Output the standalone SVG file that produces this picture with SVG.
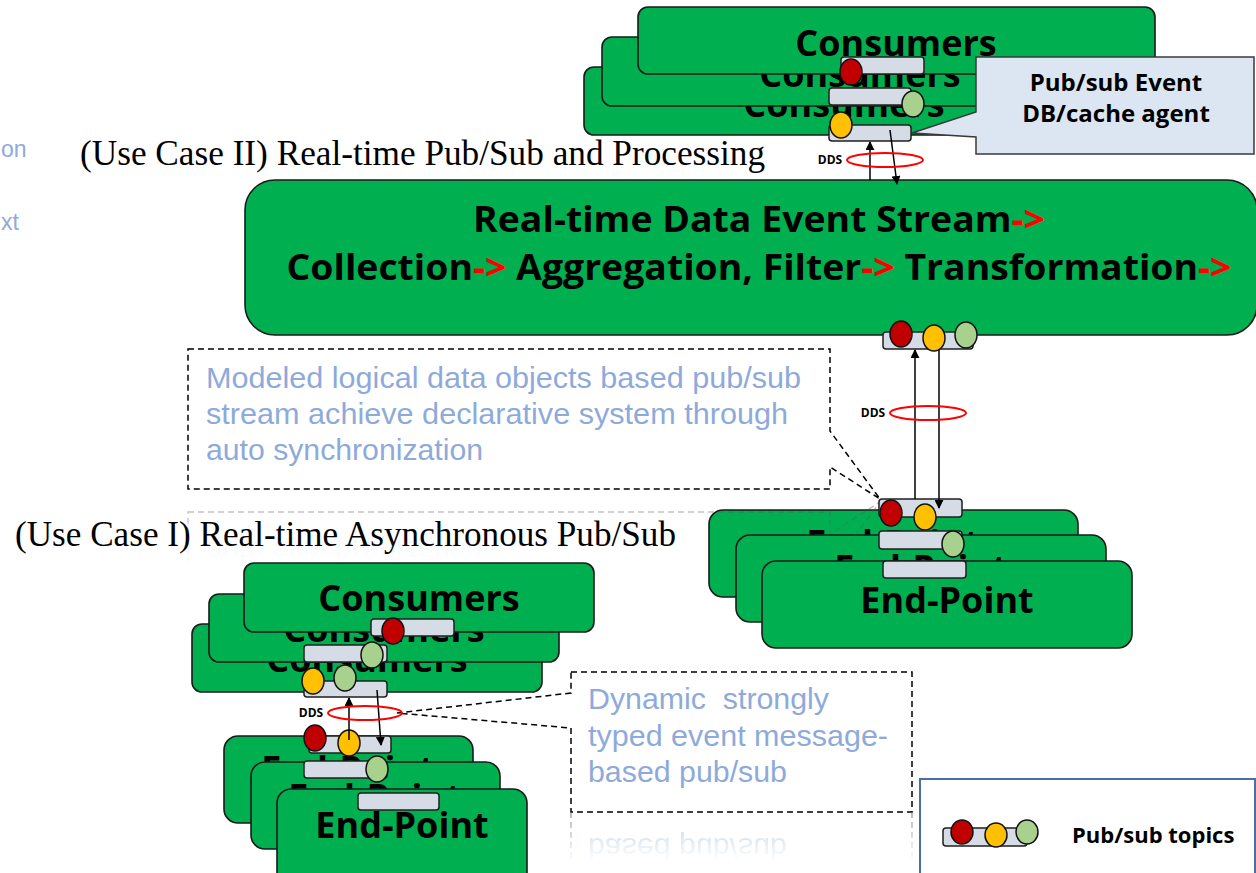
<svg xmlns="http://www.w3.org/2000/svg" width="1256" height="873" viewBox="0 0 1256 873">
  <style>
    .box { fill: #00b050; stroke: #1a1a1a; stroke-width: 1.6; }
    .lbl { font-family: "Open Sans", "Liberation Sans", sans-serif; font-weight: 700; font-size: 36px; fill: #000; text-anchor: middle; }
    .small { font-family: "Open Sans", "Liberation Sans", sans-serif; font-weight: 700; font-size: 22px; fill: #000; }
    .callout { font-size: 24px; }
    .bar { fill: #d6dce5; stroke: #1f1f1f; stroke-width: 1.5; }
    .cr { fill: #c00000; stroke: #111; stroke-width: 1.5; }
    .cy { fill: #ffc000; stroke: #111; stroke-width: 1.5; }
    .cg { fill: #a9d18e; stroke: #111; stroke-width: 1.5; }
    .ring { fill: none; stroke: #ff0000; stroke-width: 2; }
    .dds { font-family: "Open Sans", "Liberation Sans", sans-serif; font-weight: 700; font-size: 12px; fill: #000; text-anchor: middle; }
    .note { font-family: "Liberation Sans", Arial, sans-serif; font-size: 29px; fill: #8eaadb; }
    .edge { font-family: "Liberation Sans", Arial, sans-serif; font-size: 23px; fill: #8eaadb; }
    .dash { fill: none; stroke: #000; stroke-width: 1.5; stroke-dasharray: 6 4; }
    .title { font-family: "Liberation Serif", "Times New Roman", serif; font-size: 35px; fill: #000; }
    .main { font-family: "Open Sans", "Liberation Sans", sans-serif; font-weight: 700; font-size: 35px; fill: #000; text-anchor: middle; }
    .arr { fill: none; stroke: #000; stroke-width: 1.5; marker-end: url(#ah); }
    .red { fill: #ff0000; }
  </style>
  <defs>
    <marker id="ah" viewBox="0 0 10 10" refX="9" refY="5" markerWidth="9" markerHeight="9" markerUnits="userSpaceOnUse" orient="auto">
      <path d="M0,0 L10,5 L0,10 Z" fill="#000"/>
    </marker>
    <linearGradient id="fadeA" x1="0" y1="505" x2="0" y2="565" gradientUnits="userSpaceOnUse">
      <stop offset="0" stop-color="#fff" stop-opacity="0.4"/>
      <stop offset="1" stop-color="#fff" stop-opacity="0"/>
    </linearGradient>
    <linearGradient id="fadeB" x1="0" y1="812" x2="0" y2="862" gradientUnits="userSpaceOnUse">
      <stop offset="0" stop-color="#fff" stop-opacity="0.6"/>
      <stop offset="1" stop-color="#fff" stop-opacity="0"/>
    </linearGradient>
    <mask id="mA"><rect x="0" y="500" width="1256" height="80" fill="url(#fadeA)"/></mask>
    <mask id="mB"><rect x="0" y="810" width="1256" height="63" fill="url(#fadeB)"/></mask>
  </defs>

  <rect width="1256" height="873" fill="#fff"/>

  <!-- side text fragments at the left edge -->
  <g id="edge-text">
    <text class="edge" x="1" y="157">on</text>
    <text class="edge" x="1" y="230">xt</text>
  </g>

  <!-- section titles -->
  <text id="title-uc2" class="title" x="80" y="165" textLength="685" lengthAdjust="spacingAndGlyphs">(Use Case II) Real-time Pub/Sub and Processing</text>
  <text id="title-uc1" class="title" x="15" y="546" textLength="661" lengthAdjust="spacingAndGlyphs">(Use Case I) Real-time Asynchronous Pub/Sub</text>

  <!-- Use Case II: stacked consumers -->
  <g id="uc2-consumers">
    <rect class="box" x="584" y="67" width="520" height="68" rx="10"/>
    <text class="lbl" x="844" y="117">Consumers</text>
    <rect class="box" x="602" y="37" width="517" height="69" rx="10"/>
    <text class="lbl" x="860" y="87">Consumers</text>
    <rect class="box" x="638" y="7" width="517" height="67" rx="10"/>
    <text class="lbl" x="896" y="56">Consumers</text>
  </g>

  <!-- Use Case II: event DB/cache agent callout -->
  <g id="uc2-agent">
    <path d="M976,57 H1254 V154 H976 V137 L912,133 L976,112 Z" fill="#dce6f2" stroke="#3a3a3a" stroke-width="1.5"/>
    <text class="small callout" x="1116" y="91" text-anchor="middle">Pub/sub Event</text>
    <text class="small callout" x="1116" y="122" text-anchor="middle">DB/cache agent</text>
  </g>

  <!-- Use Case II: stream processing -->
  <g id="uc2-stream">
    <rect class="box" x="245" y="180" width="1012" height="155" rx="30"/>
    <text class="main" x="759" y="232" textLength="572" lengthAdjust="spacingAndGlyphs">Real-time Data Event Stream<tspan class="red">-&gt;</tspan></text>
    <text class="main" x="759" y="280" textLength="945" lengthAdjust="spacingAndGlyphs">Collection<tspan class="red">-&gt;</tspan> Aggregation, Filter<tspan class="red">-&gt;</tspan> Transformation<tspan class="red">-&gt;</tspan></text>
  </g>

  <!-- Use Case II: stacked end-points -->
  <g id="uc2-endpoints">
    <rect class="box" x="709" y="510" width="369" height="87" rx="14"/>
    <text class="lbl" x="893" y="556">End-Point</text>
    <rect class="box" x="736" y="535" width="370" height="87" rx="14"/>
    <text class="lbl" x="921" y="581">End-Point</text>
    <rect class="box" x="762" y="561" width="370" height="87" rx="14"/>
    <text class="lbl" x="947" y="613">End-Point</text>
  </g>

  <!-- Use Case II: note -->
  <g id="uc2-note">
    <path class="dash" d="M188,349 H830 V431 L880,499 L830,467 V489 H188 Z"/>
    <text class="note" x="206" y="388" textLength="595" lengthAdjust="spacingAndGlyphs">Modeled logical data objects based pub/sub</text>
    <text class="note" x="206" y="424" textLength="582" lengthAdjust="spacingAndGlyphs">stream achieve declarative system through</text>
    <text class="note" x="206" y="460" textLength="277" lengthAdjust="spacingAndGlyphs">auto synchronization</text>
  </g>
  <!-- mirrored fade of the note -->
  <g id="uc2-note-mirror" mask="url(#mA)">
    <path d="M188,512 H830 V534 L880,502 L830,570 V652 H188 Z" fill="none" stroke="#555" stroke-width="1.5" stroke-dasharray="6 4"/>
    <text class="note" x="206" y="-541" transform="scale(1,-1)" textLength="277" lengthAdjust="spacingAndGlyphs" opacity="0.5">auto synchronization</text>
  </g>

  <!-- Use Case I: stacked consumers -->
  <g id="uc1-consumers">
    <rect class="box" x="192" y="624" width="350" height="68" rx="10"/>
    <text class="lbl" x="367" y="672">Consumers</text>
    <rect class="box" x="209" y="594" width="350" height="68" rx="10"/>
    <text class="lbl" x="384" y="642">Consumers</text>
    <rect class="box" x="244" y="563" width="350" height="69" rx="10"/>
    <text class="lbl" x="419" y="611">Consumers</text>
  </g>

  <!-- Use Case I: stacked end-points -->
  <g id="uc1-endpoints">
    <rect class="box" x="224" y="736" width="249" height="87" rx="14"/>
    <text class="lbl" x="348" y="782">End-Point</text>
    <rect class="box" x="251" y="762" width="249" height="87" rx="14"/>
    <text class="lbl" x="375" y="810">End-Point</text>
    <rect class="box" x="277" y="789" width="250" height="100" rx="14"/>
    <text class="lbl" x="402" y="838">End-Point</text>
  </g>

  <!-- Use Case I: note -->
  <g id="uc1-note">
    <path class="dash" d="M571,672 H912 V812 H571 V728 L397,713 L571,693 Z"/>
    <text class="note" x="588" y="709" xml:space="preserve" textLength="241" lengthAdjust="spacingAndGlyphs">Dynamic  strongly</text>
    <text class="note" x="588" y="746" textLength="300" lengthAdjust="spacingAndGlyphs">typed event message-</text>
    <text class="note" x="588" y="782" textLength="199" lengthAdjust="spacingAndGlyphs">based pub/sub</text>
  </g>
  <g id="uc1-note-mirror" mask="url(#mB)">
    <path d="M571,812 V870 M912,812 V870" fill="none" stroke="#666" stroke-width="1.5" stroke-dasharray="6 4"/>
    <text class="note" x="588" y="-838" transform="scale(1,-1)" textLength="199" lengthAdjust="spacingAndGlyphs">based pub/sub</text>
  </g>

  <!-- pub/sub topic bars -->
  <g id="topics">
    <!-- UC2 consumers -->
    <rect class="bar" x="841" y="57" width="83" height="17" rx="3"/>
    <ellipse class="cr" cx="851" cy="72" rx="11" ry="13"/>
    <rect class="bar" x="829" y="88" width="82" height="17" rx="3"/>
    <ellipse class="cg" cx="913" cy="104" rx="11" ry="13"/>
    <rect class="bar" x="829" y="125" width="82" height="16" rx="3"/>
    <ellipse class="cy" cx="841" cy="125" rx="11" ry="13"/>
    <!-- UC2 stream -->
    <rect class="bar" x="883" y="332" width="90" height="17" rx="3"/>
    <ellipse class="cr" cx="901" cy="334" rx="11" ry="13"/>
    <ellipse class="cy" cx="934" cy="338" rx="11" ry="13"/>
    <ellipse class="cg" cx="966" cy="335" rx="11" ry="13"/>
    <!-- UC2 end-points -->
    <rect class="bar" x="879" y="499" width="83" height="18" rx="3"/>
    <ellipse class="cr" cx="891" cy="513" rx="11" ry="13"/>
    <ellipse class="cy" cx="925" cy="517" rx="11" ry="13"/>
    <rect class="bar" x="879" y="531" width="83" height="18" rx="3"/>
    <ellipse class="cg" cx="953" cy="544" rx="11" ry="13"/>
    <rect class="bar" x="883" y="561" width="83" height="17" rx="3"/>
    <!-- UC1 consumers -->
    <rect class="bar" x="371" y="619" width="83" height="17" rx="3"/>
    <ellipse class="cr" cx="393" cy="631" rx="11" ry="13"/>
    <rect class="bar" x="304" y="645" width="83" height="17" rx="3"/>
    <ellipse class="cg" cx="372" cy="655" rx="11" ry="13"/>
    <rect class="bar" x="304" y="681" width="83" height="16" rx="3"/>
    <ellipse class="cy" cx="313" cy="681" rx="11" ry="13"/>
    <ellipse class="cg" cx="345" cy="678" rx="11" ry="13"/>
    <!-- UC1 end-points -->
    <rect class="bar" x="309" y="736" width="82" height="17" rx="3"/>
    <ellipse class="cr" cx="315" cy="738" rx="11" ry="13"/>
    <ellipse class="cy" cx="349" cy="743" rx="11" ry="13"/>
    <rect class="bar" x="304" y="761" width="83" height="17" rx="3"/>
    <ellipse class="cg" cx="377" cy="769" rx="11" ry="13"/>
    <rect class="bar" x="358" y="793" width="81" height="17" rx="3"/>
  </g>

  <!-- DDS links -->
  <g id="connectors">
    <line class="arr" x1="870" y1="180" x2="870" y2="142"/>
    <line class="arr" x1="890" y1="130" x2="897" y2="184"/>
    <ellipse class="ring" cx="885" cy="160" rx="38" ry="7"/>
    <text class="dds" x="830" y="164">DDS</text>

    <line class="arr" x1="915" y1="499" x2="915" y2="350"/>
    <line class="arr" x1="939" y1="349" x2="939" y2="508"/>
    <ellipse class="ring" cx="928" cy="413" rx="38" ry="7"/>
    <text class="dds" x="873" y="417">DDS</text>

    <line class="arr" x1="349" y1="740" x2="349" y2="698"/>
    <line class="arr" x1="377" y1="690" x2="381" y2="745"/>
    <ellipse class="ring" cx="365" cy="713" rx="37" ry="7"/>
    <text class="dds" x="311" y="717">DDS</text>
  </g>

  <!-- legend -->
  <g id="legend">
    <rect x="920" y="779" width="335" height="100" fill="#fff" stroke="#4a6fa5" stroke-width="2"/>
    <rect class="bar" x="943" y="828" width="84" height="18" rx="3"/>
    <ellipse class="cr" cx="962" cy="832" rx="11" ry="12"/>
    <ellipse class="cy" cx="996" cy="835" rx="11" ry="12"/>
    <ellipse class="cg" cx="1027" cy="832" rx="11" ry="12"/>
    <text class="small" x="1072" y="843">Pub/sub topics</text>
  </g>
</svg>
